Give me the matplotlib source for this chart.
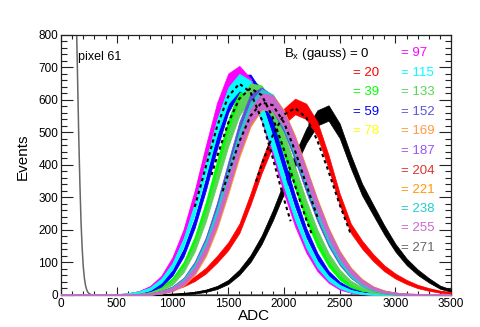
import numpy as np
import matplotlib
matplotlib.use("Agg")
import matplotlib.pyplot as plt
from matplotlib.ticker import MultipleLocator

plt.rcParams['font.family'] = ['Liberation Sans', 'DejaVu Sans']

# ADC bin grid (0 .. 3500, step 100)
adc = np.arange(0, 3600, 100)

fields = [0, 20, 39, 59, 78, 97, 115, 133, 152, 169, 187, 204, 221, 238, 255, 271]
colors = ['#000000', '#ff0000', '#00ff00', '#0000ff', '#ffff00', '#ff00ff',
          '#00ffff', '#59d454', '#5954d8', '#ff9944', '#9955ee', '#dd3333',
          '#ff9900', '#22cccc', '#cc66cc', '#666666']

z6 = [0, 0, 0, 0, 0, 0]
counts_0 = z6 + [0, 0, 0, 1, 2, 4, 7, 13, 23, 40,
                 70, 112, 170, 245, 330, 415, 490, 545, 560, 505,
                 410, 325, 262, 200, 145, 102, 70, 45, 24, 13]
counts_20 = z6 + [0, 1, 3, 8, 18, 32, 50, 75, 110, 150,
                  205, 295, 395, 480, 550, 580, 565, 510, 410, 295,
                  205, 155, 115, 82, 58, 40, 26, 17, 10, 6]
counts_39 = z6 + [1, 3, 8, 21, 46, 92, 167, 271, 394, 516,
                  607, 640, 616, 548, 452, 345, 244, 160, 97, 54,
                  28, 14, 6, 2, 1, 0, 0, 0, 0, 0]
counts_59 = z6 + [2, 5, 14, 32, 68, 130, 222, 341, 472, 585,
                  651, 653, 602, 511, 400, 289, 192, 118, 66, 35,
                  17, 7, 3, 1, 0, 0, 0, 0, 0, 0]
counts_78 = z6 + [3, 9, 21, 47, 95, 170, 275, 402, 527, 622,
                  665, 640, 565, 460, 345, 238, 152, 90, 48, 24,
                  11, 5, 2, 1, 0, 0, 0, 0, 0, 0]
counts_97 = z6 + [3, 9, 23, 52, 106, 189, 305, 440, 568, 656,
                  679, 641, 558, 448, 331, 226, 142, 82, 44, 21,
                  10, 4, 2, 1, 0, 0, 0, 0, 0, 0]
counts_115 = z6 + [3, 8, 19, 44, 89, 162, 265, 391, 517, 614,
                   655, 634, 565, 465, 352, 246, 158, 94, 51, 26,
                   12, 5, 2, 1, 0, 0, 0, 0, 0, 0]
counts_133 = z6 + [1, 2, 6, 17, 38, 79, 146, 243, 360, 479,
                   576, 626, 620, 566, 478, 376, 275, 187, 118, 70,
                   38, 20, 9, 4, 1, 0, 0, 0, 0, 0]
counts_152 = z6 + [0, 1, 3, 9, 22, 46, 93, 165, 268, 390,
                   510, 595, 614, 590, 525, 435, 335, 242, 163, 102,
                   60, 33, 17, 8, 3, 1, 0, 0, 0, 0]
counts_169 = z6 + [0, 1, 2, 6, 15, 34, 70, 130, 218, 328,
                   444, 541, 595, 590, 540, 460, 365, 270, 185, 118,
                   70, 39, 20, 9, 4, 2, 1, 0, 0, 0]
counts_187 = z6 + [0, 1, 2, 7, 17, 37, 76, 139, 229, 340,
                   456, 549, 597, 590, 541, 463, 369, 274, 189, 122,
                   73, 41, 21, 10, 5, 2, 1, 0, 0, 0]
counts_204 = z6 + [0, 1, 2, 7, 19, 40, 82, 148, 241, 355,
                   469, 560, 604, 591, 536, 455, 357, 262, 178, 113,
                   66, 36, 18, 8, 4, 1, 0, 0, 0, 0]
counts_221 = z6 + [0, 1, 3, 8, 18, 38, 76, 138, 227, 338,
                   452, 545, 595, 592, 545, 468, 374, 279, 193, 125,
                   76, 43, 22, 11, 5, 2, 1, 0, 0, 0]
counts_238 = z6 + [0, 1, 2, 8, 20, 43, 87, 156, 252, 368,
                   482, 570, 609, 593, 534, 449, 350, 255, 172, 108,
                   63, 34, 17, 8, 3, 1, 0, 0, 0, 0]
counts_255 = z6 + [0, 1, 3, 8, 18, 38, 77, 140, 230, 341,
                   457, 550, 597, 590, 541, 463, 369, 274, 189, 122,
                   73, 41, 21, 10, 5, 2, 1, 0, 0, 0]

# B = 271 gauss: pedestal only
ped_adc = [0, 60, 100, 130, 140, 150, 160, 170, 180, 190, 200, 210, 220,
           230, 240, 250, 260, 270, 280, 300, 3500]
ped_counts = [6000, 9000, 4000, 1500, 820, 650, 480, 340, 225, 145, 88, 52,
              30, 17, 9, 5, 3, 1, 0, 0, 0]

signal_counts = [counts_0, counts_20, counts_39, counts_59, counts_78,
                 counts_97, counts_115, counts_133, counts_152, counts_169,
                 counts_187, counts_204, counts_221, counts_238, counts_255]

# Gaussian fit curves (dashed black)
fit_cyan_adc = [1200, 1300, 1400, 1500, 1600, 1700, 1800, 1900, 2000, 2060]
fit_cyan_val = [271, 395, 518, 611, 650, 624, 540, 421, 295, 227]
fit_green_adc = [1350, 1400, 1500, 1600, 1700, 1800, 1900, 2000, 2100, 2200, 2250]
fit_green_val = [369, 425, 529, 604, 636, 615, 546, 447, 336, 232, 187]
fit_purple_adc = [1450, 1500, 1600, 1700, 1800, 1900, 2000, 2100, 2200, 2300]
fit_purple_val = [319, 372, 472, 551, 592, 584, 531, 443, 340, 240]
fit_red_adc = [1750, 1800, 1900, 2000, 2100, 2200, 2300, 2400, 2500, 2600]
fit_red_val = [349, 400, 492, 555, 575, 546, 475, 380, 278, 187]

fig = plt.figure(figsize=(4.8, 3.27), dpi=100)
ax = fig.add_axes([0.127, 0.098, 0.813, 0.795])

# pedestal first
ax.plot(ped_adc, ped_counts, color=colors[-1], lw=1.1, zorder=2)

for vals, c in zip(signal_counts, colors[:-1]):
    v = np.asarray(vals, dtype=float)
    err = 1.0 * np.sqrt(v)
    ax.fill_between(adc, np.clip(v - err, 0, None), v + err, color=c,
                    lw=0.5, edgecolor=c, zorder=3)
    ax.plot(adc, v, color=c, lw=0.9, zorder=3)

fit_style = dict(color='black', lw=1.5, ls=(0, (1.6, 1.6)), zorder=5)
ax.plot(fit_cyan_adc, fit_cyan_val, **fit_style)
ax.plot(fit_green_adc, fit_green_val, **fit_style)
ax.plot(fit_purple_adc, fit_purple_val, **fit_style)
ax.plot(fit_red_adc, fit_red_val, **fit_style)

ax.set_xlim(0, 3500)
ax.set_ylim(0, 800)
ax.xaxis.set_major_locator(MultipleLocator(500))
ax.xaxis.set_minor_locator(MultipleLocator(100))
ax.yaxis.set_major_locator(MultipleLocator(100))
ax.yaxis.set_minor_locator(MultipleLocator(20))
ax.tick_params(which='both', direction='in', top=True, right=True,
               width=0.8, colors='#222222', labelcolor='black', labelsize=8.5)
ax.tick_params(axis='y', which='major', length=8.5, pad=2)
ax.tick_params(axis='y', which='minor', length=4.3)
ax.tick_params(axis='x', which='major', length=5.8, pad=2.5)
ax.tick_params(axis='x', which='minor', length=3)
for s in ax.spines.values():
    s.set_linewidth(0.9)
    s.set_color('#222222')

ax.set_xlabel('ADC', fontsize=11)
ax.set_ylabel('Events', fontsize=11)
ax.xaxis.set_label_coords(0.495, -0.055)
ax.xaxis.label.set_va('top')
ax.yaxis.set_label_coords(-0.08, 0.53)

ax.text(0.043, 0.915, 'pixel 61', transform=ax.transAxes, fontsize=9,
        ha='left', va='center', zorder=6)

# legend-like labels (positions in pixels converted to axes fraction)
def yfrac(py):
    return (295 - py) / 260.0

ax.text((284 - 61) / 390.0, yfrac(54), r'B$_\mathregular{x}$ (gauss) = 0',
        transform=ax.transAxes, fontsize=9.5, ha='left', va='center',
        color=colors[0], zorder=6)
col1_rows = [73, 92, 112, 131]
for i, py in enumerate(col1_rows):
    ax.text((353 - 61) / 390.0, yfrac(py), '= %d' % fields[1 + i],
            transform=ax.transAxes, fontsize=9.5, ha='left', va='center',
            color=colors[1 + i], zorder=6)
col2_rows = [53, 73, 92, 112, 131, 151, 171, 190, 209, 228, 248]
for i, py in enumerate(col2_rows):
    ax.text((401 - 61) / 390.0, yfrac(py), '= %d' % fields[5 + i],
            transform=ax.transAxes, fontsize=9.5, ha='left', va='center',
            color=colors[5 + i], zorder=6)

fig.savefig('out.png', dpi=100)
